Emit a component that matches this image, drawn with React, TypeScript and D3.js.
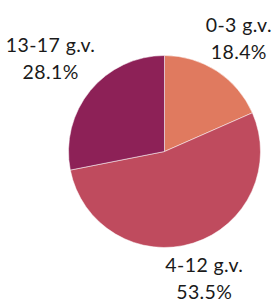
import React, { useEffect, useRef } from 'react';
import * as d3 from 'd3';

const categories = ['0-3 g.v.', '4-12 g.v.', '13-17 g.v.'];
const values = [18.4, 53.5, 28.1];
const colors = ['#e07a5f', '#bf4b5e', '#8d2157'];

const App = () => {
  const ref = useRef<SVGSVGElement>(null);

  useEffect(() => {
    const cx = 164.5;
    const cy = 151.5;
    const radius = 96;
    const labelGap = 97; // distance from centre to the nearest edge of a label

    const svg = d3.select(ref.current);
    svg.selectAll('*').remove();

    const data = categories.map((name, i) => ({ name, value: values[i], color: colors[i] }));

    const pie = d3.pie<any>()
      .sort(null)
      .value(d => d.value);

    const arc = d3.arc<any>()
      .innerRadius(0)
      .outerRadius(radius);

    const g = svg.append('g')
      .attr('transform', `translate(${cx},${cy})`);

    const arcs = pie(data);

    g.selectAll('path')
      .data(arcs)
      .enter()
      .append('path')
      .attr('d', arc)
      .attr('fill', d => d.data.color)
      .attr('stroke', '#ffffff')
      .attr('stroke-width', 0.5);

    const labels = g.selectAll('.label')
      .data(arcs)
      .enter()
      .append('text')
      .attr('class', 'label')
      .attr('text-anchor', 'middle')
      .attr('font-family', 'Lato, sans-serif')
      .attr('font-size', 19.5)
      .attr('letter-spacing', 0.4)
      .attr('fill', '#1a1a1a');

    labels.append('tspan')
      .attr('x', 0)
      .attr('y', 0)
      .text(d => d.data.name);

    labels.append('tspan')
      .attr('x', 0)
      .attr('y', 27)
      .text(d => `${d.data.value.toFixed(1)}%`);

    // push each label out along its slice's middle angle, so that its box just clears labelGap
    labels.each(function (d: any) {
      const el = this as SVGTextElement;
      const box = el.getBBox();
      const a = (d.startAngle + d.endAngle) / 2;
      const sx = Math.sin(a);
      const sy = -Math.cos(a);
      const reach = Math.abs(sx) * box.width / 2 + Math.abs(sy) * box.height / 2;
      const r = labelGap + reach;
      const px = sx * r;
      const py = sy * r;
      const bx = box.x + box.width / 2;
      const by = box.y + box.height / 2;
      d3.select(el).attr('transform', `translate(${px - bx},${py - by})`);
    });
  }, []);

  return (
    <svg ref={ref} width={278} height={304} style={{ position: 'absolute', left: 0, top: 0 }} />
  );
};

export default App;
